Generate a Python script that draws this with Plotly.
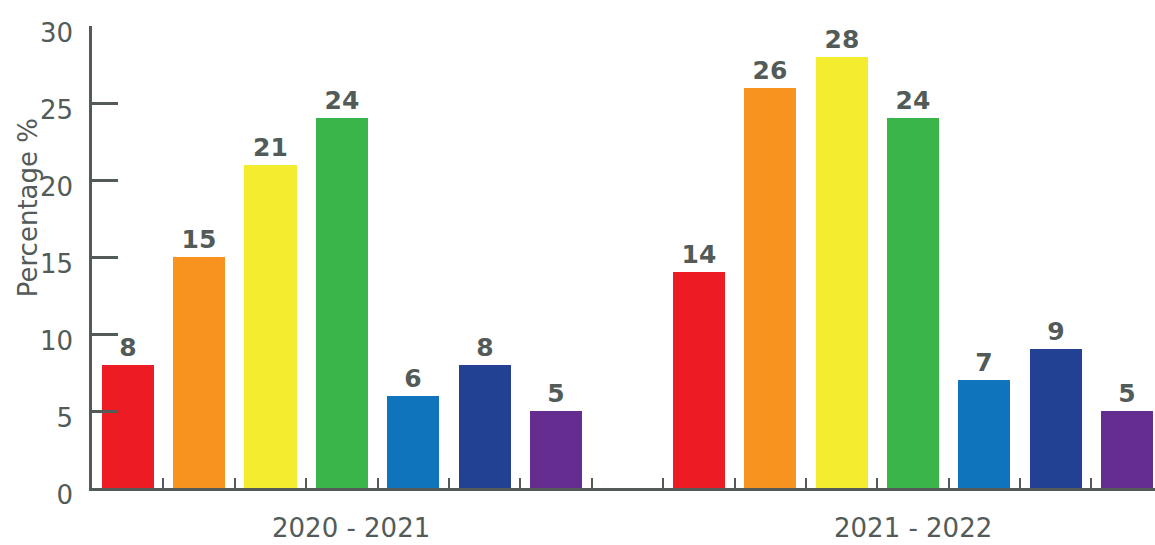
import plotly.graph_objects as go

groups = ["2020 - 2021", "2021 - 2022"]
values_2020_2021 = [8, 15, 21, 24, 6, 8, 5]
values_2021_2022 = [14, 26, 28, 24, 7, 9, 5]
bar_colors = ["#ED1C24", "#F7931E", "#F3EC2F", "#3AB54A", "#1074BC", "#224192", "#662D91"]
y_ticks = [0, 5, 10, 15, 20, 25, 30]

n = len(bar_colors)
xs, ys, cols = [], [], []
for g, vals in enumerate([values_2020_2021, values_2021_2022]):
    for i, v in enumerate(vals):
        xs.append(g * (n + 1) + i)
        ys.append(v)
        cols.append(bar_colors[i])

grey = "#535b59"
font_family = "'DejaVu Sans', sans-serif"

fig = go.Figure()
fig.add_trace(go.Bar(
    x=xs, y=ys, width=0.73,
    marker=dict(color=cols, line=dict(width=0)),
    text=[str(v) for v in ys], textposition="outside", cliponaxis=False,
    textfont=dict(size=25, color=grey, family=font_family, weight="bold"),
    showlegend=False,
))

fig.update_layout(
    width=1155, height=545,
    margin=dict(l=92, r=0, t=26, b=57, autoexpand=False),
    plot_bgcolor="white", paper_bgcolor="white",
    font=dict(family=font_family, color=grey),
    bargap=0,
)
fig.update_xaxes(
    range=[-0.5, 14.39], automargin=False,
    showline=True, linecolor=grey, linewidth=2.5,
    ticks="inside", ticklen=10, tickwidth=2, tickcolor=grey,
    tickvals=[i + 0.5 for i in range(2 * n)],
    showticklabels=False, showgrid=False, zeroline=False,
)
fig.update_yaxes(
    range=[0, 30], automargin=False,
    showline=True, linecolor=grey, linewidth=2.5,
    ticks="inside", ticklen=26, tickwidth=2.5, tickcolor=grey,
    tickvals=y_ticks, ticklabelstandoff=11, ticklabelshift=7,
    tickfont=dict(size=26, color=grey, family=font_family),
    showgrid=False, zeroline=False,
)

fig.add_annotation(
    text="Percentage %", textangle=-90, showarrow=False,
    xref="paper", yref="paper", x=-0.06, y=0.606,
    xanchor="center", yanchor="middle",
    font=dict(size=26, color=grey, family=font_family),
)
for g, label in enumerate(groups):
    fig.add_annotation(
        text=label, showarrow=False,
        xref="x", yref="paper", x=g * (n + 1) + (n - 1) / 2, y=-0.087,
        xshift=9 if g == 0 else 0,
        xanchor="center", yanchor="middle",
        font=dict(size=26, color=grey, family=font_family),
    )

fig.write_html(
    "out.html",
    config={"displayModeBar": False},
    post_script="document.body.style.margin='0';",
)
